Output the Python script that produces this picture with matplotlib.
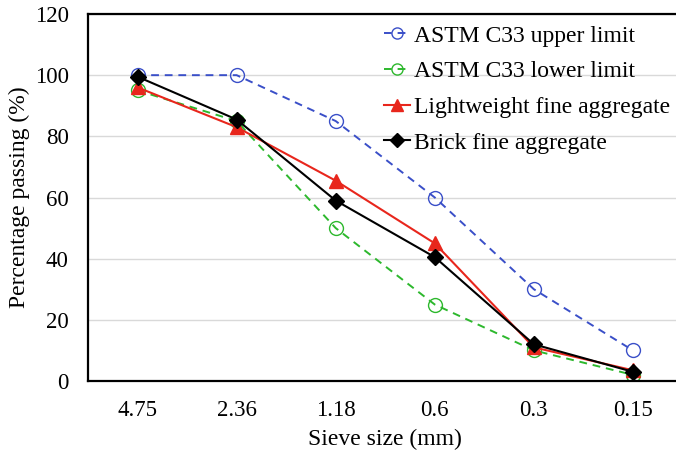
import matplotlib.pyplot as plt

plt.rcParams['font.family'] = ['Liberation Serif', 'DejaVu Serif']

# Data
sieve_sizes = ['4.75', '2.36', '1.18', '0.6', '0.3', '0.15']
upper_limit = [100, 100, 85, 60, 30, 10]
lower_limit = [95, 85, 50, 25, 10, 2]
lightweight = [96, 83, 65.5, 45, 11, 3.5]
brick = [99.5, 85.5, 59, 40.5, 12, 3]

fig = plt.figure(figsize=(6.76, 4.53), dpi=100)
ax = fig.add_axes([88 / 676, 72 / 453, (682.5 - 88) / 676, 367 / 453])

x = range(len(sieve_sizes))
ax.plot(x, upper_limit, ls=(0, (4, 3)), color='#3A4FC8', lw=1.4,
        marker='o', ms=10, mfc='none', mec='#3A4FC8', mew=1.0,
        label='ASTM C33 upper limit')
ax.plot(x, lower_limit, ls=(0, (4, 3)), color='#2DB82D', lw=1.4,
        marker='o', ms=10, mfc='none', mec='#2DB82D', mew=1.0,
        label='ASTM C33 lower limit')
ax.plot(x, lightweight, color='#E8261C', lw=1.5, marker='^', ms=10,
        label='Lightweight fine aggregate')
ax.plot(x, brick, color='black', lw=1.5, marker='D', ms=8.5,
        label='Brick fine aggregate')

ax.set_xlim(-0.5, 5.5)
ax.set_ylim(0, 120)
ax.set_yticks(range(0, 121, 20))
ax.set_xticks(list(x))
ax.set_xticklabels(sieve_sizes)
ax.tick_params(length=0, labelsize=16.5)
ax.tick_params(axis='y', pad=14)
ax.tick_params(axis='x', pad=14)

ax.grid(axis='y', color='#D9D9D9', lw=1.0)
ax.set_axisbelow(True)
for side in ['left', 'bottom', 'top']:
    ax.spines[side].set_linewidth(1.6)
ax.spines['right'].set_visible(False)

ax.set_xlabel('Sieve size (mm)', fontsize=17, labelpad=5)
ax.set_ylabel('Percentage passing (%)', fontsize=17, labelpad=3)

ax.legend(loc='upper left', bbox_to_anchor=(384 / 676, 1 - 25 / 453),
          bbox_transform=fig.transFigure, frameon=False,
          fontsize=17, handlelength=1.1, handletextpad=0.15,
          labelspacing=0.6, markerscale=0.8, borderpad=0, borderaxespad=0)

plt.savefig('out.png', dpi=100)
plt.close()
